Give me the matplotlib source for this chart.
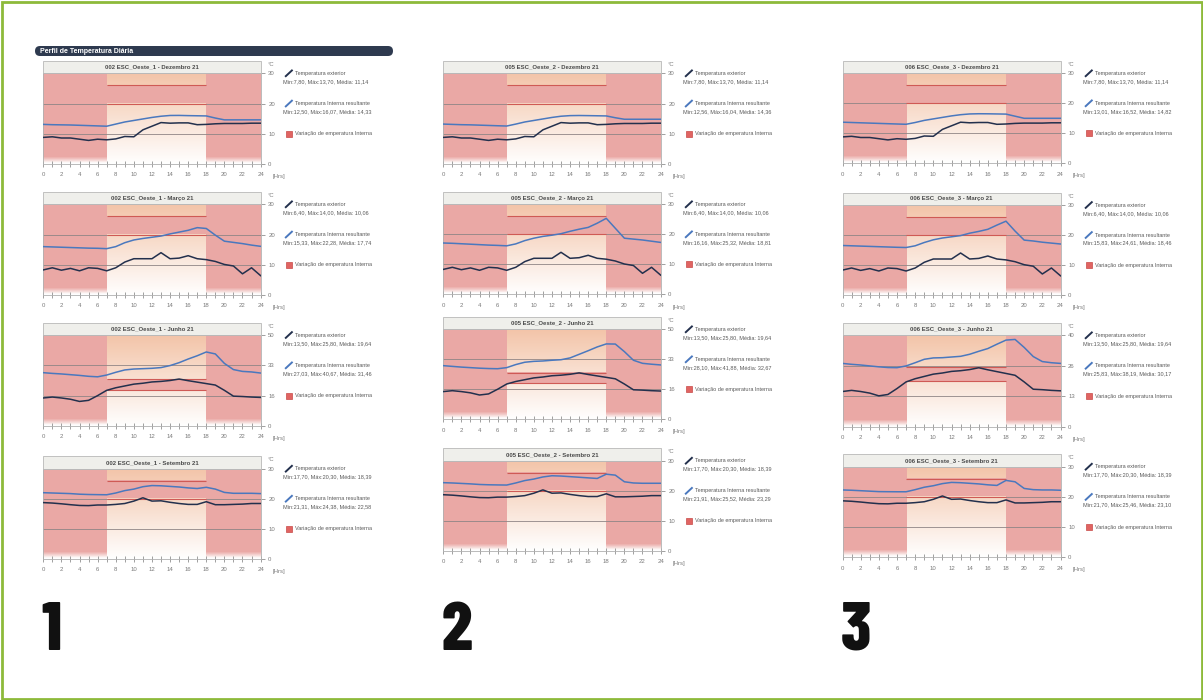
import numpy as np
import matplotlib
matplotlib.use('Agg')
import matplotlib.pyplot as plt
from matplotlib.patches import Rectangle, FancyBboxPatch

plt.rcParams['font.family'] = ['Liberation Sans', 'DejaVu Sans']

# ---------------- data ----------------
hours = list(range(25))
zones = ['002 ESC_Oeste_1', '005 ESC_Oeste_2', '006 ESC_Oeste_3']
months = ['Dezembro 21', 'Março 21', 'Junho 21', 'Setembro 21']
ymax_levels = [[30, 30, 50, 30], [30, 30, 50, 30], [30, 30, 40, 30]]
comfort_band = [20, 26]
occupied_hours = [7, 18]

ext_dezembro = [8.8, 9.0, 8.6, 8.6, 8.2, 7.8, 8.2, 8.0, 8.3, 9.1, 9.0, 11.3, 12.5, 13.7, 13.5, 13.6, 13.6, 13.0, 13.1, 13.3, 13.4, 13.4, 13.4, 13.5, 13.5]
ext_marco = [8.3, 9.0, 8.2, 8.8, 8.0, 9.0, 8.8, 8.0, 9.0, 10.9, 12.0, 12.0, 12.0, 14.0, 12.0, 12.2, 13.0, 12.0, 11.7, 11.1, 10.1, 9.6, 7.0, 9.0, 6.4]
ext_junho = [15.4, 15.9, 15.4, 14.7, 13.5, 14.1, 16.7, 19.6, 21.0, 22.0, 23.0, 23.5, 24.2, 24.5, 25.0, 25.8, 24.9, 24.1, 23.3, 22.5, 19.6, 16.4, 16.2, 15.9, 15.7]
ext_setembro = [18.7, 18.55, 18.3, 18.0, 17.75, 17.7, 17.9, 17.9, 18.1, 18.4, 19.2, 20.3, 19.2, 19.3, 18.8, 18.4, 18.1, 18.1, 19.0, 18.0, 18.0, 18.1, 18.2, 18.4, 18.4]

int1_dezembro = [13.1, 13.0, 12.95, 12.9, 12.8, 12.7, 12.6, 12.5, 13.2, 13.9, 14.4, 14.9, 15.4, 15.8, 16.05, 16.07, 16.0, 15.95, 15.9, 15.2, 14.6, 14.6, 14.6, 14.6, 14.6]
int2_dezembro = [13.2, 13.1, 13.0, 12.95, 12.85, 12.75, 12.65, 12.56, 13.2, 13.9, 14.4, 14.9, 15.4, 15.8, 16.0, 16.04, 16.0, 15.95, 15.9, 15.3, 14.8, 14.8, 14.8, 14.8, 14.8]
int3_dezembro = [13.7, 13.6, 13.5, 13.4, 13.3, 13.2, 13.1, 13.01, 13.6, 14.3, 14.8, 15.3, 15.8, 16.2, 16.45, 16.52, 16.5, 16.45, 16.4, 15.7, 15.0, 15.0, 15.0, 15.0, 15.0]

int1_marco = [16.0, 15.9, 15.8, 15.7, 15.6, 15.5, 15.45, 15.33, 16.0, 17.3, 18.2, 18.7, 19.1, 19.5, 20.2, 20.8, 21.4, 22.28, 22.0, 19.8, 17.8, 17.4, 17.0, 16.5, 16.1]
int2_marco = [17.1, 17.0, 16.85, 16.7, 16.55, 16.4, 16.3, 16.16, 16.8, 17.9, 18.7, 19.3, 19.7, 20.2, 21.0, 21.7, 22.3, 23.7, 25.32, 22.0, 18.7, 18.4, 18.1, 17.7, 17.3]
int3_marco = [16.5, 16.4, 16.3, 16.2, 16.1, 16.0, 15.9, 15.83, 16.4, 17.5, 18.4, 19.0, 19.4, 19.8, 20.6, 21.2, 21.9, 23.3, 24.61, 21.3, 18.3, 18.0, 17.6, 17.3, 17.0]

int1_junho = [29.3, 28.9, 28.6, 28.2, 27.8, 27.3, 27.03, 28.0, 29.5, 30.8, 31.3, 31.5, 31.7, 32.1, 33.2, 34.8, 36.8, 38.6, 40.67, 39.6, 34.4, 31.0, 30.0, 29.7, 29.1]
int2_junho = [29.8, 29.4, 29.0, 28.7, 28.4, 28.2, 28.1, 28.7, 30.4, 31.7, 32.2, 32.4, 32.8, 33.1, 34.1, 36.1, 38.1, 40.2, 41.88, 41.8, 37.6, 32.8, 31.1, 30.6, 30.2]
int3_junho = [27.7, 27.3, 27.0, 26.6, 26.2, 25.9, 25.83, 26.6, 28.0, 29.5, 30.1, 30.2, 30.5, 30.8, 31.7, 33.0, 34.2, 36.1, 37.9, 38.19, 34.7, 30.7, 28.5, 28.0, 27.7]

int1_setembro = [22.0, 21.9, 21.8, 21.7, 21.5, 21.4, 21.35, 21.31, 21.9, 22.7, 23.2, 24.0, 24.38, 24.3, 24.1, 23.9, 23.6, 23.4, 23.8, 23.2, 22.1, 21.8, 21.8, 21.8, 21.7]
int2_setembro = [22.7, 22.6, 22.45, 22.3, 22.1, 22.0, 21.95, 21.91, 22.6, 23.4, 23.9, 24.6, 25.0, 24.9, 24.7, 24.5, 24.3, 24.1, 25.52, 25.2, 23.0, 22.6, 22.5, 22.5, 22.5]
int3_setembro = [22.3, 22.2, 22.05, 21.9, 21.75, 21.72, 21.7, 21.7, 22.4, 23.2, 23.7, 24.4, 24.8, 24.7, 24.5, 24.3, 24.0, 23.8, 25.46, 25.0, 22.8, 22.4, 22.3, 22.3, 22.2]

ext_stats = ['Min:7,80, Máx:13,70, Média: 11,14', 'Min:6,40, Máx:14,00, Média: 10,06',
             'Min:13,50, Máx:25,80, Média: 19,64', 'Min:17,70, Máx:20,30, Média: 18,39']
int_stats = [
    ['Min:12,50, Máx:16,07, Média: 14,33', 'Min:15,33, Máx:22,28, Média: 17,74',
     'Min:27,03, Máx:40,67, Média: 31,46', 'Min:21,31, Máx:24,38, Média: 22,58'],
    ['Min:12,56, Máx:16,04, Média: 14,36', 'Min:16,16, Máx:25,32, Média: 18,81',
     'Min:28,10, Máx:41,88, Média: 32,67', 'Min:21,91, Máx:25,52, Média: 23,29'],
    ['Min:13,01, Máx:16,52, Média: 14,82', 'Min:15,83, Máx:24,61, Média: 18,46',
     'Min:25,83, Máx:38,19, Média: 30,17', 'Min:21,70, Máx:25,46, Média: 23,10'],
]
ext_series = [ext_dezembro, ext_marco, ext_junho, ext_setembro]
int_series = [[int1_dezembro, int1_marco, int1_junho, int1_setembro],
              [int2_dezembro, int2_marco, int2_junho, int2_setembro],
              [int3_dezembro, int3_marco, int3_junho, int3_setembro]]
legend_labels = ['Temperatura exterior', 'Temperatura Interna resultante', 'Variação de emperatura Interna']
column_numbers = ['1', '2', '3']

# ---------------- layout (pixels) ----------------
W, H = 1203, 700
col_left = [43.3, 443.3, 842.5]
col_width = [217.3, 217.3, 218.0]
row_top = [[73.3, 204.3, 335.0, 468.7], [73.3, 204.3, 329.3, 460.7], [73.3, 205.0, 335.3, 466.7]]
row_bottom = [[164.0, 295.0, 426.0, 558.7], [164.0, 294.3, 419.3, 551.0], [163.3, 295.0, 426.7, 557.3]]
title_h = 12.5

C_EXT = '#23304d'
C_INT = '#4a78be'
C_PINK = np.array([234, 168, 165]) / 255
C_PEACH = np.array([243, 196, 168]) / 255
C_GRID = '#8f8585'
C_TICK = '#7a7a7a'
C_TXT = '#5a5a5a'

fig = plt.figure(figsize=(W / 100, H / 100), dpi=100)
fig.patch.set_facecolor('white')

ov = fig.add_axes([0, 0, 1, 1], zorder=10)
ov.set_xlim(0, W)
ov.set_ylim(H, 0)
ov.axis('off')
ov.patch.set_alpha(0)


def background(ymax):
    ny, nx = 400, 480
    xs = (np.arange(nx) + 0.5) / nx * 24
    ys = (np.arange(ny) + 0.5) / ny * ymax
    X, Y = np.meshgrid(xs, ys)
    f = Y / ymax
    base = 1 - f[..., None] * (1 - C_PEACH)
    occ = (X >= occupied_hours[0]) & (X <= occupied_hours[1])
    band = occ & (Y >= comfort_band[0]) & (Y <= comfort_band[1])
    fade = np.clip((f - 0.012) / 0.07, 0, 1)
    a = np.where(~occ, fade, 0.0) + np.where(band, 1.0, 0.0)
    a = np.clip(a, 0, 1)[..., None]
    return base * (1 - a) + C_PINK * a


for c in range(3):
    for r in range(4):
        L, Wd = col_left[c], col_width[c]
        T, B = row_top[c][r], row_bottom[c][r]
        ymax = ymax_levels[c][r]
        ax = fig.add_axes([L / W, 1 - B / H, Wd / W, (B - T) / H])
        ax.imshow(background(ymax), extent=[0, 24, 0, ymax], origin='lower',
                  aspect='auto', interpolation='nearest', zorder=0)
        ax.set_xlim(0, 24)
        ax.set_ylim(0, ymax)
        yt = [0, ymax / 3, 2 * ymax / 3, ymax]
        for v in yt[1:]:
            ax.axhline(v, color=C_GRID, lw=0.6, zorder=1)
        for v in comfort_band:
            ax.hlines(v, occupied_hours[0], occupied_hours[1], color='#cf5a55', lw=0.8, zorder=1.5)
        ax.plot(hours, int_series[c][r], color=C_INT, lw=1.1, zorder=3)
        ax.plot(hours, ext_series[r], color=C_EXT, lw=1.1, zorder=3)

        ax.yaxis.tick_right()
        ax.set_yticks(yt)
        ax.set_yticklabels([str(int(v)) for v in yt])
        ax.set_xticks(hours)
        ax.set_xticklabels([str(h) if h % 2 == 0 else '' for h in hours])
        ax.tick_params(axis='y', labelsize=4.3, colors=C_TICK, length=3, width=0.5, pad=2.5,
                       labelcolor=C_TICK)
        ax.tick_params(axis='x', labelsize=4.3, colors=C_TICK, length=4, width=0.5, pad=4,
                       direction='inout', labelcolor=C_TICK)
        for s in ['left', 'right', 'bottom']:
            ax.spines[s].set_color('#b0b0b0')
            ax.spines[s].set_linewidth(0.6)
        ax.spines['top'].set_visible(False)

        # title box
        ov.add_patch(Rectangle((L, T - title_h), Wd, title_h, facecolor='#efefeb',
                               edgecolor='#b8b8b8', lw=0.6))
        ov.text(L + Wd / 2, T - title_h / 2, f'{zones[c]} - {months[r]}', ha='center',
                va='center', fontsize=4.3, fontweight='bold', color='#4a4a4a')
        ov.text(L + Wd + 10, T - 9, '°C', ha='center', va='center', fontsize=4.3, color=C_TICK)
        ov.text(L + Wd + 12.5, B + 12.7, '[Hrs]', ha='left', va='center', fontsize=4.3, color=C_TICK)

        # legend
        R = L + Wd
        ypos = [T + (B - T) * (1 - v / ymax) for v in yt[::-1][:3]]
        ov.plot([R + 24.5, R + 32], [ypos[0] + 3.5, ypos[0] - 3.5], color=C_EXT, lw=1.4,
                solid_capstyle='butt')
        ov.text(R + 34.5, ypos[0], legend_labels[0], fontsize=4.0, color=C_TXT, va='center')
        ov.text(R + 22.6, ypos[0] + 8.4, ext_stats[r], fontsize=4.0, color=C_TXT, va='center')
        ov.plot([R + 24.5, R + 32], [ypos[1] + 3.5, ypos[1] - 3.5], color=C_INT, lw=1.4,
                solid_capstyle='butt')
        ov.text(R + 34.5, ypos[1], legend_labels[1], fontsize=4.0, color=C_TXT, va='center')
        ov.text(R + 22.6, ypos[1] + 8.0, int_stats[c][r], fontsize=4.0, color=C_TXT, va='center')
        ov.add_patch(Rectangle((R + 25.5, ypos[2] - 3), 6, 6, facecolor='#e06462',
                               edgecolor='#c74a48', lw=0.5))
        ov.text(R + 34.5, ypos[2], legend_labels[2], fontsize=4.0, color=C_TXT, va='center')

# header bar
ov.add_patch(FancyBboxPatch((35, 46), 358, 10, boxstyle='round,pad=0,rounding_size=5',
                            facecolor='#2e3a4f', edgecolor='none'))
ov.text(40, 51.3, 'Perfil de Temperatura Diária', color='white', fontsize=5.0,
        fontweight='bold', va='center', ha='left')

# big column numbers
for c in range(3):
    ov.text(col_left[c] - 1.5, 650, column_numbers[c], fontsize=49, fontweight='heavy',
            family=['Barlow Condensed', 'DejaVu Sans'], ha='left', va='baseline', color='#111111')

# green frame
ov.add_patch(Rectangle((1.5, 1.5), W - 3, H - 3, facecolor='none', edgecolor='#8dba3a', lw=2.0))

fig.savefig('out.png', dpi=100)
